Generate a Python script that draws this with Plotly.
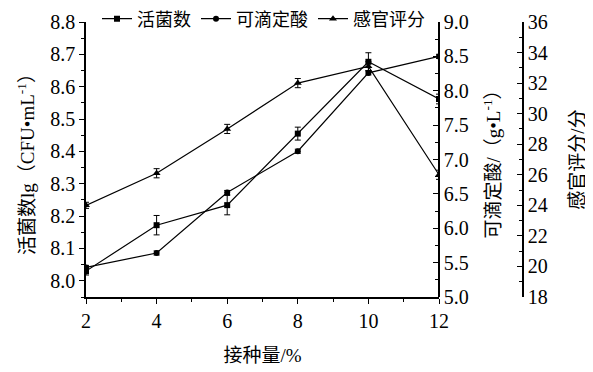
import plotly.graph_objects as go

inoculum = [2, 4, 6, 8, 10, 12]
viable = [8.03, 8.172, 8.234, 8.455, 8.677, 8.562]
viable_err = [0.012, 0.03, 0.03, 0.02, 0.028, 0.015]
acid = [5.43, 5.64, 6.52, 7.12, 8.26, 8.50]
acid_err = [0.03, 0.03, 0.03, 0.03, 0.03, 0.03]
sensory = [24.0, 26.1, 29.0, 32.0, 33.1, 26.0]
sensory_err = [0.2, 0.3, 0.3, 0.3, 0.3, 0.3]

names = ["活菌数", "可滴定酸", "感官评分"]

FONT = "Liberation Serif, Times New Roman, Noto Sans CJK SC, serif"
# page body has an 8px offset; compensate
W, H = 585, 364
L, T = 78, 14
R = W - 515
B = H - 289
plot_w = W - L - R
plot_h = H - T - B
xdom_end = (431 - L) / plot_w

fig = go.Figure()
line = dict(color="black", width=1.2)
eb = lambda arr: dict(type="data", array=arr, visible=True, color="black", thickness=1, width=3)

fig.add_trace(go.Scatter(x=inoculum, y=viable, name=names[0], mode="lines+markers",
                         line=line, marker=dict(symbol="square", size=6, color="black"),
                         error_y=eb(viable_err), yaxis="y"))
fig.add_trace(go.Scatter(x=inoculum, y=acid, name=names[1], mode="lines+markers",
                         line=line, marker=dict(symbol="circle", size=6, color="black"),
                         error_y=eb(acid_err), yaxis="y2"))
fig.add_trace(go.Scatter(x=inoculum, y=sensory, name=names[2], mode="lines+markers",
                         line=line, marker=dict(symbol="triangle-up", size=7, color="black"),
                         error_y=eb(sensory_err), yaxis="y3"))

axis_common = dict(showline=True, linecolor="black", linewidth=1.5, showgrid=False,
                   zeroline=False, tickcolor="black", ticklen=5, tickwidth=1.2,
                   automargin=False,
                   tickfont=dict(family=FONT, size=20, color="black"))
minor = dict(ticklen=3, tickcolor="black", tickwidth=1, showgrid=False)

fig.update_layout(
    width=W, height=H,
    margin=dict(l=L, r=R, t=T, b=B, autoexpand=False),
    paper_bgcolor="white", plot_bgcolor="white",
    font=dict(family=FONT, size=19, color="black"),
    showlegend=True,
    legend=dict(orientation="h", x=11 / plot_w, xanchor="left", y=1 + 3 / plot_h, yanchor="middle",
                font=dict(family=FONT, size=18), bgcolor="rgba(0,0,0,0)",
                itemwidth=30, tracegroupgap=0),
    xaxis=dict(domain=[0, xdom_end], range=[2, 12], tickvals=inoculum, ticks="outside",
               minor=dict(dtick=1, ticks="outside", **minor),
               title=dict(text="接种量/%", font=dict(family=FONT, size=19), standoff=18),
               **axis_common),
    yaxis=dict(range=[7.95, 8.8], dtick=0.1, tick0=8.0, tickformat=".1f", ticks="outside",
               minor=dict(dtick=0.05, tick0=8.0, ticks="outside", **minor),
               title=dict(text="活菌数lg（CFU•mL<sup>-1</sup>）", font=dict(family=FONT, size=19), standoff=11),
               **axis_common),
    yaxis2=dict(range=[5, 9], dtick=0.5, tickformat=".1f", overlaying="y", side="right",
                anchor="free", position=xdom_end, ticks="inside",
                minor=dict(dtick=0.25, ticks="inside", **minor),
                title=dict(text="可滴定酸/（g•L<sup>-1</sup>）", font=dict(family=FONT, size=19), standoff=18),
                **axis_common),
    yaxis3=dict(range=[18, 36], dtick=2, overlaying="y", side="right",
                anchor="free", position=1.0, ticks="inside",
                minor=dict(dtick=1, ticks="inside", **minor),
                title=dict(text="感官评分/分", font=dict(family=FONT, size=19), standoff=23),
                **axis_common),
)

fig.write_html("out.html")
